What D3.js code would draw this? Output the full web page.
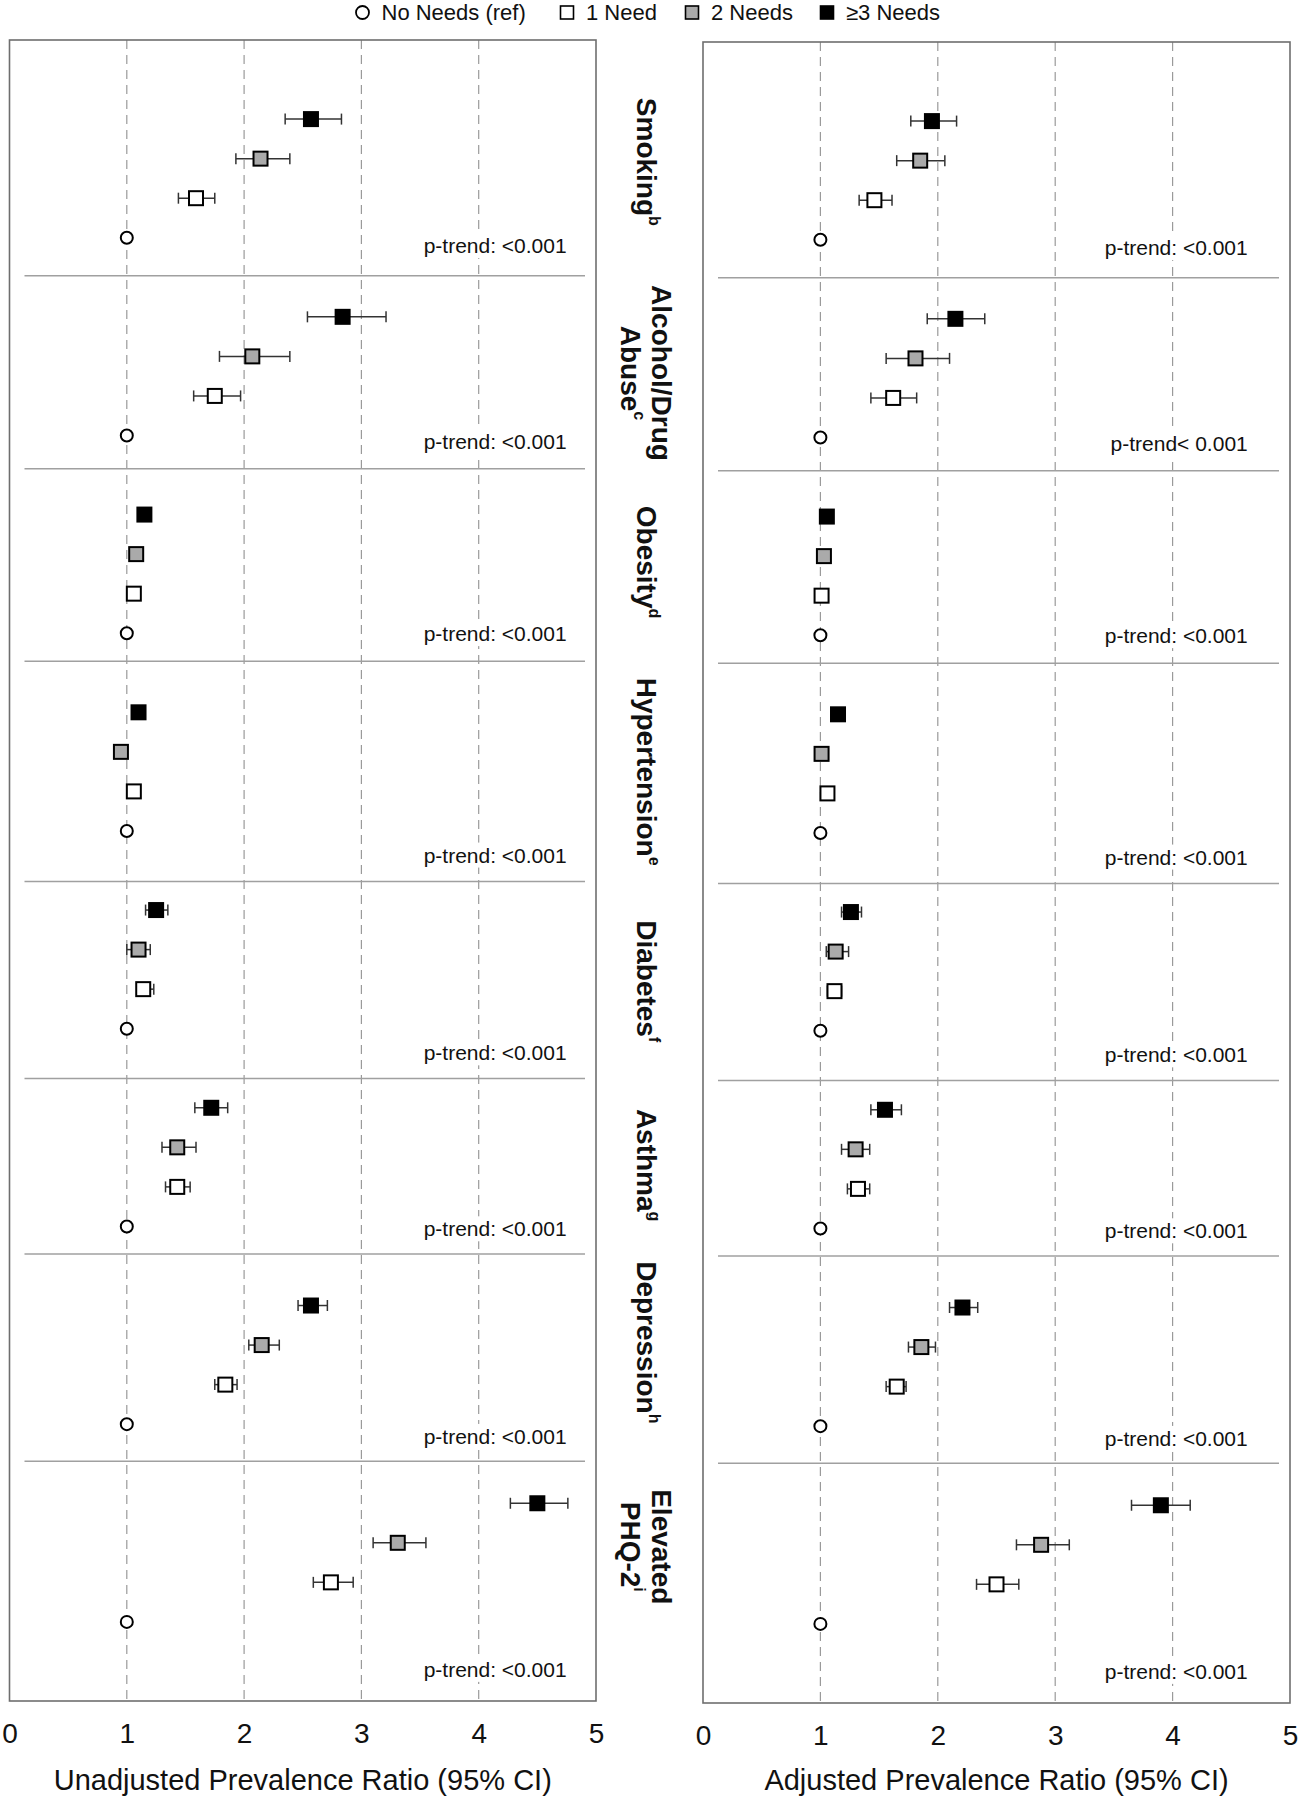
<!DOCTYPE html>
<html><head><meta charset="utf-8">
<script src="https://cdn.jsdelivr.net/npm/d3@7"></script>
<style>
body{margin:0;background:#fff}
svg{display:block;font-family:"Liberation Sans",Arial,Helvetica,sans-serif}
</style>
</head><body>
<svg id="c" width="1298" height="1800"></svg>
<script>
// ---------------- DATA ----------------
const categories = [["Smoking"], ["Alcohol/Drug", "Abuse"], ["Obesity"], ["Hypertension"], ["Diabetes"], ["Asthma"], ["Depression"], ["Elevated", "PHQ-2"]];
const superscripts = ["b", "c", "d", "e", "f", "g", "h", "i"];
const levels = ["No Needs (ref)", "1 Need", "2 Needs", "\u22653 Needs"];
const refValue = [1, 1, 1, 1, 1, 1, 1, 1];

// Unadjusted prevalence ratios (left panel)
const unadj1   = [1.59, 1.75, 1.06, 1.06, 1.14, 1.43, 1.84, 2.74];
const unadj1Lo = [1.44, 1.57, 1.04, 1.04, 1.10, 1.33, 1.75, 2.59];
const unadj1Hi = [1.75, 1.97, 1.08, 1.08, 1.23, 1.54, 1.94, 2.93];
const unadj2   = [2.14, 2.07, 1.08, 0.95, 1.10, 1.43, 2.15, 3.31];
const unadj2Lo = [1.93, 1.79, 1.06, 0.93, 1.00, 1.30, 2.04, 3.10];
const unadj2Hi = [2.39, 2.39, 1.11, 0.97, 1.20, 1.59, 2.30, 3.55];
const unadj3   = [2.57, 2.84, 1.15, 1.10, 1.25, 1.72, 2.57, 4.50];
const unadj3Lo = [2.35, 2.54, 1.12, 1.07, 1.16, 1.58, 2.46, 4.27];
const unadj3Hi = [2.83, 3.21, 1.18, 1.13, 1.35, 1.86, 2.71, 4.76];

// Adjusted prevalence ratios (right panel)
const adj1   = [1.46, 1.62, 1.01, 1.06, 1.12, 1.32, 1.65, 2.50];
const adj1Lo = [1.33, 1.43, 0.99, 1.04, 1.06, 1.23, 1.56, 2.33];
const adj1Hi = [1.61, 1.82, 1.03, 1.08, 1.18, 1.42, 1.73, 2.69];
const adj2   = [1.85, 1.81, 1.03, 1.01, 1.13, 1.30, 1.86, 2.88];
const adj2Lo = [1.65, 1.56, 1.01, 0.99, 1.05, 1.18, 1.75, 2.67];
const adj2Hi = [2.06, 2.10, 1.05, 1.03, 1.24, 1.42, 1.98, 3.12];
const adj3   = [1.95, 2.15, 1.055, 1.15, 1.26, 1.55, 2.21, 3.90];
const adj3Lo = [1.77, 1.91, 1.03, 1.12, 1.18, 1.43, 2.10, 3.65];
const adj3Hi = [2.16, 2.40, 1.08, 1.18, 1.35, 1.69, 2.34, 4.15];

const pTrendUnadj = ["p-trend: <0.001", "p-trend: <0.001", "p-trend: <0.001", "p-trend: <0.001", "p-trend: <0.001", "p-trend: <0.001", "p-trend: <0.001", "p-trend: <0.001"];
const pTrendAdj   = ["p-trend: <0.001", "p-trend< 0.001", "p-trend: <0.001", "p-trend: <0.001", "p-trend: <0.001", "p-trend: <0.001", "p-trend: <0.001", "p-trend: <0.001"];

const xTicks = [0, 1, 2, 3, 4, 5];
const gridValues = [1, 2, 3, 4];
const axisTitles = ["Unadjusted Prevalence Ratio (95% CI)", "Adjusted Prevalence Ratio (95% CI)"];

// row layout (in row units; each category = 4 rows + 1 gap)
const separatorRows = [3.96, 8.84, 13.71, 19.28, 24.26, 28.7, 33.94];
const labelRows = [1.08, 6.42, 11.2, 16.5, 21.8, 26.45, 30.93, 36.1];
const pTrendRows = [3.2, 8.16, 13.01, 18.61, 23.61, 28.06, 33.31, 39.2];

// ---------------- LAYOUT ----------------
const svg = d3.select("#c");
const fills = ["#ffffff", "#ffffff", "#aaaaaa", "#000000"];
const rowDomain = [-2, 40];

const panels = [
  {x0: 9.5, x1: 596, y0: 40, y1: 1701, est: [unadj1, unadj2, unadj3], lo: [unadj1Lo, unadj2Lo, unadj3Lo], hi: [unadj1Hi, unadj2Hi, unadj3Hi], ptrend: pTrendUnadj, pAt: 4.75, title: axisTitles[0]},
  {x0: 703, x1: 1290, y0: 42, y1: 1703, est: [adj1, adj2, adj3], lo: [adj1Lo, adj2Lo, adj3Lo], hi: [adj1Hi, adj2Hi, adj3Hi], ptrend: pTrendAdj, pAt: 4.64, title: axisTitles[1]}
];

panels.forEach(p => {
  const x = d3.scaleLinear().domain([0, 5]).range([p.x0, p.x1]);
  const y = d3.scaleLinear().domain(rowDomain).range([p.y0, p.y1]);
  const g = svg.append("g");

  // dashed gridlines
  g.selectAll("line.grid").data(gridValues).join("line")
    .attr("x1", d => x(d)).attr("x2", d => x(d))
    .attr("y1", p.y0).attr("y2", p.y1)
    .attr("stroke", "#9a9a9a").attr("stroke-width", 1.2)
    .attr("stroke-dasharray", "9,6");

  // separators
  g.selectAll("line.sep").data(separatorRows).join("line")
    .attr("x1", p.x0 + 15).attr("x2", p.x1 - 11)
    .attr("y1", d => y(d)).attr("y2", d => y(d))
    .attr("stroke", "#a0a0a0").attr("stroke-width", 1.5);

  // p-trend labels with white background
  p.ptrend.forEach((t, i) => {
    const tg = g.append("g");
    const txt = tg.append("text")
      .attr("x", x(p.pAt)).attr("y", y(pTrendRows[i]))
      .attr("text-anchor", "end").attr("dominant-baseline", "central")
      .attr("font-size", 21).attr("fill", "#111").text(t);
    const bb = txt.node().getBBox();
    tg.insert("rect", "text").attr("x", bb.x - 2).attr("y", bb.y - 1)
      .attr("width", bb.width + 4).attr("height", bb.height + 2).attr("fill", "#fff");
  });

  // build points
  const pts = [];
  categories.forEach((c, i) => {
    pts.push({level: 0, row: 5 * i + 3, v: refValue[i]});
    for (let L = 1; L <= 3; L++) {
      pts.push({level: L, row: 5 * i + 3 - L, v: p.est[L - 1][i], lo: p.lo[L - 1][i], hi: p.hi[L - 1][i]});
    }
  });
  const withCI = pts.filter(d => d.level > 0);

  // error bars
  const eb = g.selectAll("g.eb").data(withCI).join("g").attr("stroke", "#333").attr("stroke-width", 1.5);
  eb.append("line").attr("x1", d => x(d.lo)).attr("x2", d => x(d.hi)).attr("y1", d => y(d.row)).attr("y2", d => y(d.row));
  eb.append("line").attr("x1", d => x(d.lo)).attr("x2", d => x(d.lo)).attr("y1", d => y(d.row) - 5.5).attr("y2", d => y(d.row) + 5.5);
  eb.append("line").attr("x1", d => x(d.hi)).attr("x2", d => x(d.hi)).attr("y1", d => y(d.row) - 5.5).attr("y2", d => y(d.row) + 5.5);

  // squares
  const s = 14;
  g.selectAll("rect.m").data(withCI).join("rect")
    .attr("x", d => x(d.v) - s / 2).attr("y", d => y(d.row) - s / 2)
    .attr("width", s).attr("height", s)
    .attr("fill", d => fills[d.level]).attr("stroke", "#000").attr("stroke-width", 2);

  // reference circles
  g.selectAll("circle.r").data(pts.filter(d => d.level === 0)).join("circle")
    .attr("cx", d => x(d.v)).attr("cy", d => y(d.row)).attr("r", 6)
    .attr("fill", "#fff").attr("stroke", "#000").attr("stroke-width", 2);

  // frame
  g.append("rect").attr("x", p.x0).attr("y", p.y0)
    .attr("width", p.x1 - p.x0).attr("height", p.y1 - p.y0)
    .attr("fill", "none").attr("stroke", "#6e6e6e").attr("stroke-width", 1.6);

  // axis
  const ax = svg.append("g").attr("transform", `translate(0,${p.y1})`)
    .call(d3.axisBottom(x).tickValues(xTicks).tickFormat(d3.format("d")).tickSize(0).tickPadding(22));
  ax.select(".domain").remove();
  ax.selectAll("text").attr("font-size", 28).attr("fill", "#111")
    .attr("font-family", '"Liberation Sans",Arial,sans-serif');

  // axis title
  svg.append("text").attr("x", (p.x0 + p.x1) / 2).attr("y", 1790)
    .attr("text-anchor", "middle").attr("font-size", 29).attr("fill", "#111").text(p.title);
});

// category labels (rotated, between panels)
const labelY = d3.scaleLinear().domain(rowDomain).range([40, 1701]);
const labelCx = 646, lineGap = 31;
categories.forEach((lines, i) => {
  const t = svg.append("g").attr("transform", `translate(${labelCx},${labelY(labelRows[i])}) rotate(90)`);
  lines.forEach((ln, k) => {
    const dy = (k - (lines.length - 1) / 2) * lineGap;
    const tx = t.append("text").attr("x", 0).attr("y", dy)
      .attr("text-anchor", "middle").attr("dominant-baseline", "central")
      .attr("font-size", 28).attr("font-weight", "bold").attr("fill", "#111").text(ln);
    if (k === lines.length - 1) {
      tx.append("tspan").attr("font-size", 16).attr("dy", -9).text(superscripts[i]);
    }
  });
});

// legend
const legendCx = [362.5, 567, 692, 827];
const legendY = 12.5;
const lg = svg.append("g");
levels.forEach((lab, i) => {
  if (i === 0) {
    lg.append("circle").attr("cx", legendCx[i]).attr("cy", legendY).attr("r", 6.5)
      .attr("fill", "#fff").attr("stroke", "#000").attr("stroke-width", 1.8);
  } else {
    lg.append("rect").attr("x", legendCx[i] - 6.5).attr("y", legendY - 6.5).attr("width", 13).attr("height", 13)
      .attr("fill", fills[i]).attr("stroke", "#000").attr("stroke-width", 1.6);
  }
  lg.append("text").attr("x", legendCx[i] + 19).attr("y", legendY).attr("dominant-baseline", "central")
    .attr("font-size", 22).attr("fill", "#111").text(lab);
});
</script>
</body></html>
